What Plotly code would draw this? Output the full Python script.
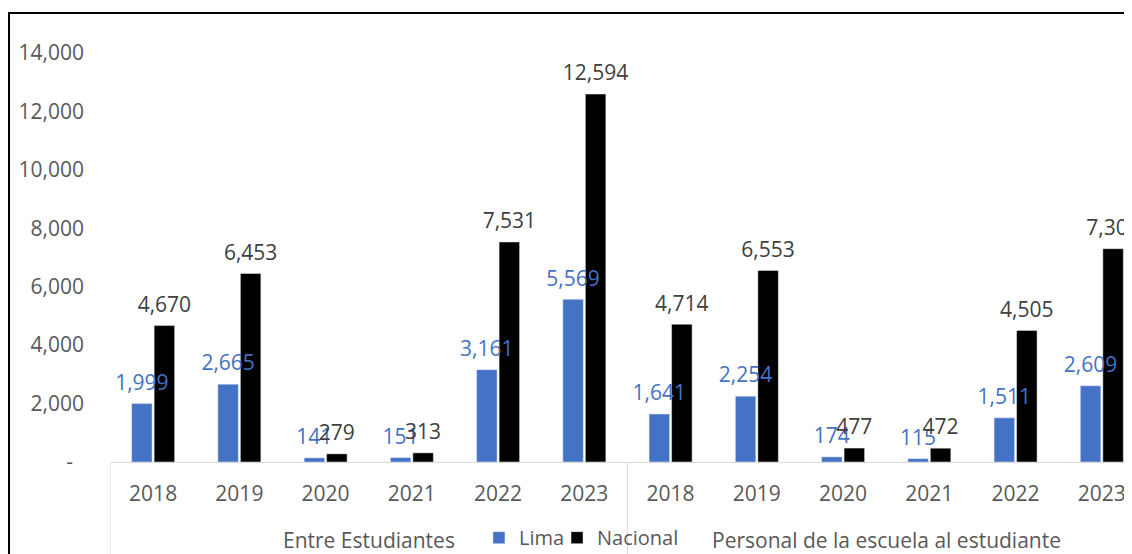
import plotly.graph_objects as go

group_names = ["Entre Estudiantes", "Personal de la escuela al estudiante"]
years = ["2018", "2019", "2020", "2021", "2022", "2023"] * 2
lima = [1999, 2665, 141, 151, 3161, 5569, 1641, 2254, 174, 115, 1511, 2609]
nacional = [4670, 6453, 279, 313, 7531, 12594, 4714, 6553, 477, 472, 4505, 7301]
ytick_vals = [0, 2000, 4000, 6000, 8000, 10000, 12000, 14000]
ytick_text = ["-\u00a0\u00a0", "2,000", "4,000", "6,000", "8,000", "10,000", "12,000", "14,000"]

FONT = "Open Sans"
BLUE = "#4472C4"
GRAY = "#595959"
LINE = "#d9d9d9"

xpos = list(range(len(years)))
n_per_group = len(years) // len(group_names)

fig = go.Figure()
fig.add_trace(go.Bar(name="Lima", x=xpos, y=lima, marker_color=BLUE,
                     offsetgroup="lima", hoverinfo="y", legend="legend"))
fig.add_trace(go.Bar(name="Nacional", x=xpos, y=nacional, marker_color="#000000",
                     offsetgroup="nac", hoverinfo="y", legend="legend2"))
# data labels drawn above both bar series
fig.add_trace(go.Scatter(x=xpos, y=lima, mode="markers+text", offsetgroup="lima",
                         text=[f"{v:,}" for v in lima], textposition="top center",
                         marker=dict(size=12, opacity=0), showlegend=False,
                         textfont=dict(family=FONT, size=21, color=BLUE),
                         cliponaxis=False, hoverinfo="skip"))
fig.add_trace(go.Scatter(x=xpos, y=nacional, mode="markers+text", offsetgroup="nac",
                         text=[f"{v:,}" for v in nacional], textposition="top center",
                         marker=dict(size=12, opacity=0), showlegend=False,
                         textfont=dict(family=FONT, size=21, color="#404040"),
                         cliponaxis=False, hoverinfo="skip"))

shapes = [dict(type="rect", xref="paper", yref="paper",
               x0=-0.0988, x1=1.05, y0=-0.4, y1=1.0978,
               line=dict(color="black", width=2), fillcolor="rgba(0,0,0,0)", layer="above")]
annotations = []
for gi, gname in enumerate(group_names):
    start = gi * n_per_group
    shapes.append(dict(type="line", xref="x", yref="paper",
                       x0=start - 0.5, x1=start - 0.5, y0=0, y1=-0.3,
                       line=dict(color=LINE, width=1)))
    annotations.append(dict(text=gname, xref="x", yref="paper",
                            x=start + (n_per_group - 1) / 2, y=-0.1907,
                            xanchor="center", yanchor="middle", showarrow=False,
                            font=dict(family=FONT, size=21, color=GRAY)))

legend_style = dict(orientation="h", xanchor="left", y=-0.185, yanchor="middle",
                    font=dict(family=FONT, size=20, color=GRAY), itemwidth=30,
                    bgcolor="rgba(0,0,0,0)")

fig.update_layout(
    width=1132, height=554,
    margin=dict(l=102, r=8, t=45, b=100, autoexpand=False),
    paper_bgcolor="white", plot_bgcolor="white",
    barmode="group", bargap=0.478, bargroupgap=0.09,
    scattermode="group", scattergap=0.478,
    font=dict(family=FONT, size=21, color=GRAY),
    showlegend=True,
    legend=dict(x=0.361, **legend_style),
    legend2=dict(x=0.4374, **legend_style),
    shapes=shapes, annotations=annotations,
)
fig.update_xaxes(
    range=[-0.5, 11.35], tickvals=xpos, ticktext=years,
    showline=True, linecolor=LINE, linewidth=1,
    tickfont=dict(family=FONT, size=21, color=GRAY),
    showgrid=False, zeroline=False, ticks="", automargin=False,
    ticklabelstandoff=13,
)
fig.update_yaxes(
    range=[0, 14000], tickvals=ytick_vals, ticktext=ytick_text,
    showgrid=False, zeroline=False, showline=False, ticks="",
    tickfont=dict(family=FONT, size=21, color=GRAY),
    ticklabelstandoff=25, automargin=False,
)

fig.write_html("out.html")
